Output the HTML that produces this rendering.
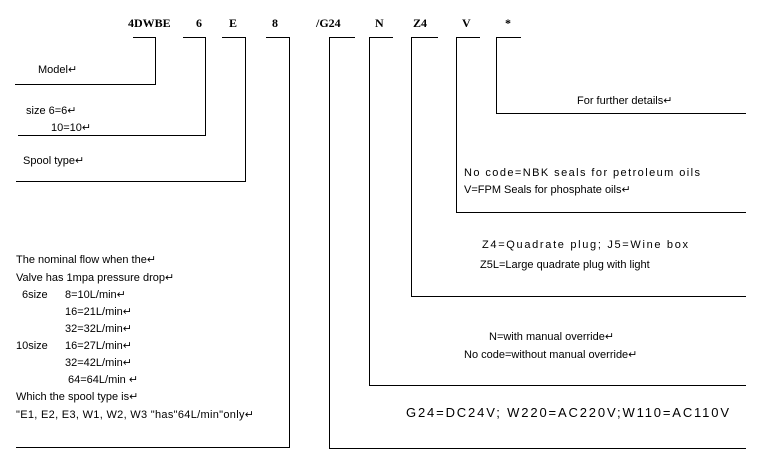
<!DOCTYPE html>
<html><head><style>
body{margin:0;background:#fff;}
svg{display:block;}
text{font-family:"Liberation Sans",sans-serif;fill:#000;}
.h{font-family:"Liberation Serif",serif;font-weight:bold;font-size:12px;}
.s{font-size:11px;}
</style></head><body>
<svg width="762" height="468" viewBox="0 0 762 468" xmlns="http://www.w3.org/2000/svg">
<g stroke="#000" stroke-width="1" fill="none">
<polyline points="133,37.5 155.5,37.5 155.5,84.5 15,84.5"/>
<polyline points="183,37.5 205.5,37.5 205.5,135.5 18,135.5"/>
<polyline points="222,37.5 245.5,37.5 245.5,181.5 16,181.5"/>
<polyline points="266,37.5 289.5,37.5 289.5,447.5 16,447.5"/>
<polyline points="355,37.5 329.5,37.5 329.5,448.5 746,448.5"/>
<polyline points="393,37.5 369.5,37.5 369.5,385.5 746,385.5"/>
<polyline points="438,37.5 411.5,37.5 411.5,296.5 746,296.5"/>
<polyline points="480,37.5 456.5,37.5 456.5,212.5 746,212.5"/>
<polyline points="521,37.5 496.5,37.5 496.5,113.5 746,113.5"/>
</g>
<text class="h" x="128" y="27">4DWBE</text>
<text class="h" x="196" y="27">6</text>
<text class="h" x="229" y="27">E</text>
<text class="h" x="272" y="27">8</text>
<text class="h" x="316" y="27">/G24</text>
<text class="h" x="375" y="27">N</text>
<text class="h" x="413" y="27">Z4</text>
<text class="h" x="462" y="27">V</text>
<text class="h" x="505" y="27">*</text>
<text class="s" x="38" y="73">Model↵</text>
<text class="s" x="26" y="114">size 6=6↵</text>
<text class="s" x="51" y="131">10=10↵</text>
<text class="s" x="23" y="164">Spool type↵</text>
<text class="s" x="16" y="263">The nominal flow when the↵</text>
<text class="s" x="16" y="281">Valve has 1mpa pressure drop↵</text>
<text class="s" x="22" y="298">6size</text><text class="s" x="65" y="298">8=10L/min↵</text>
<text class="s" x="65" y="315">16=21L/min↵</text>
<text class="s" x="65" y="332">32=32L/min↵</text>
<text class="s" x="16" y="349">10size</text><text class="s" x="65" y="349">16=27L/min↵</text>
<text class="s" x="65" y="366">32=42L/min↵</text>
<text class="s" x="68" y="383">64=64L/min ↵</text>
<text class="s" x="16" y="400">Which the spool type is↵</text>
<text class="s" x="16" y="418" textLength="238">"E1, E2, E3, W1, W2, W3 "has"64L/min"only↵</text>
<text class="s" x="577" y="104">For further details↵</text>
<text class="s" x="464" y="176" textLength="236">No code=NBK seals for petroleum oils</text>
<text class="s" x="464" y="193">V=FPM Seals for phosphate oils↵</text>
<text class="s" x="482" y="248" textLength="206">Z4=Quadrate plug; J5=Wine box</text>
<text class="s" x="480" y="268">Z5L=Large quadrate plug with light</text>
<text class="s" x="489" y="340">N=with manual override↵</text>
<text class="s" x="464" y="358">No code=without manual override↵</text>
<text x="406" y="417" font-size="13" textLength="323">G24=DC24V; W220=AC220V;W110=AC110V</text>
</svg>
</body></html>
